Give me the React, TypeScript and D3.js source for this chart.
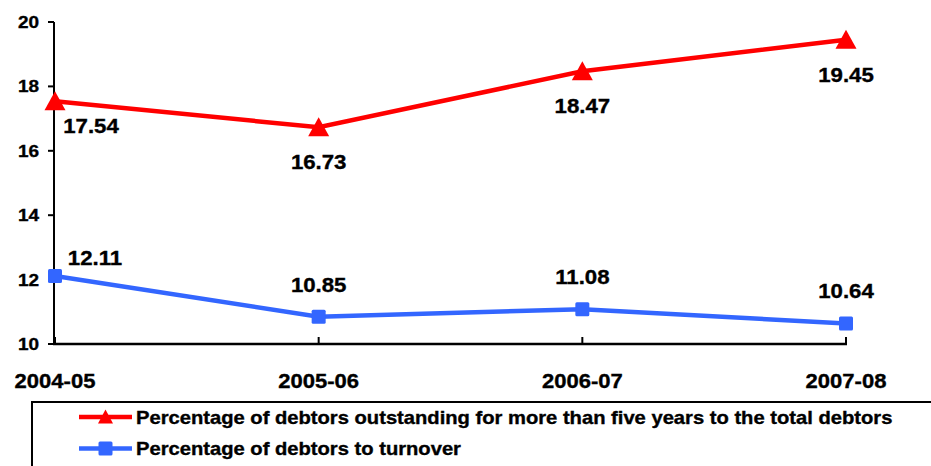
import * as d3 from "d3";

const years = ["2004-05", "2005-06", "2006-07", "2007-08"];
const outstandingPct = [17.54, 16.73, 18.47, 19.45];
const turnoverPct = [12.11, 10.85, 11.08, 10.64];
const yTicks = [10, 12, 14, 16, 18, 20];
const seriesNames = [
  "Percentage of debtors outstanding for more than five years to the total debtors",
  "Percentage of debtors to turnover",
];

const RED = "#ff0000";
const BLUE = "#3366ff";
const FONT = "'Liberation Sans', Arial, sans-serif";

const W = 931;
const H = 466;

// text helper: the reference is a bit stretched horizontally
const T = ({ x, y, size, anchor = "middle", sx = 1.15, children }: any) => (
  <text
    transform={`translate(${x},${y}) scale(${sx},1)`}
    textAnchor={anchor}
    fontFamily={FONT}
    fontWeight="bold"
    fontSize={size}
    fill="#000"
    stroke="#000"
    strokeWidth={0.35}
  >
    {children}
  </text>
);

const triangle = (w: number, h: number) =>
  `M0,${-h * 0.53}L${w / 2},${h * 0.47}L${-w / 2},${h * 0.47}Z`;

export default function App() {
  const x = d3.scalePoint<string>().domain(years).range([55, 846]);
  const y = d3.scaleLinear().domain([10, 20]).range([344, 22]);

  const line = d3
    .line<number>()
    .x((_, i) => x(years[i])!)
    .y((d) => y(d));

  return (
    <svg
      width={W}
      height={H}
      style={{ position: "absolute", left: 0, top: 0, background: "#fff" }}
    >
      {/* axes */}
      <line x1={54} x2={54} y1={y(20)} y2={y(10)} stroke="#000" strokeWidth={2} />
      <line x1={53} x2={x(years[3])! + 1} y1={y(10)} y2={y(10)} stroke="#000" strokeWidth={2.5} />
      {yTicks.map((t) => (
        <g key={t}>
          <line x1={48} x2={54} y1={y(t)} y2={y(t)} stroke="#000" strokeWidth={2} />
          <T x={39} y={y(t) + 6} size={16.5} anchor="end" sx={1.15}>
            {t}
          </T>
        </g>
      ))}
      {years.map((c) => (
        <g key={c}>
          <line x1={x(c)} x2={x(c)} y1={y(10)} y2={y(10) - 7} stroke="#000" strokeWidth={2} />
          <T x={x(c)} y={388} size={19.5} sx={1.13}>
            {c}
          </T>
        </g>
      ))}

      {/* series lines */}
      <path d={line(outstandingPct) ?? ""} fill="none" stroke={RED} strokeWidth={4.5} />
      <path d={line(turnoverPct) ?? ""} fill="none" stroke={BLUE} strokeWidth={4.5} />

      {/* markers */}
      {outstandingPct.map((v, i) => (
        <path
          key={"r" + i}
          d={triangle(21, 19)}
          transform={`translate(${x(years[i])},${y(v)})`}
          fill={RED}
        />
      ))}
      {turnoverPct.map((v, i) => (
        <rect
          key={"b" + i}
          x={x(years[i])! - 7}
          y={y(v) - 7}
          width={14}
          height={14}
          rx={1.5}
          fill={BLUE}
        />
      ))}

      {/* data labels */}
      {outstandingPct.map((v, i) => (
        <T
          key={"rl" + i}
          x={i === 0 ? x(years[i])! + 36 : x(years[i])!}
          y={i === 0 ? y(v) + 32 : y(v) + 42}
          size={19.5}
          sx={1.14}
        >
          {v.toFixed(2)}
        </T>
      ))}
      {turnoverPct.map((v, i) => (
        <T
          key={"bl" + i}
          x={i === 0 ? x(years[i])! + 40 : x(years[i])!}
          y={i === 0 ? y(v) - 11 : y(v) - 25}
          size={19.5}
          sx={1.14}
        >
          {v.toFixed(2)}
        </T>
      ))}

      {/* legend */}
      <rect x={32} y={402} width={W} height={H} fill="none" stroke="#000" strokeWidth={2} />
      {seriesNames.map((name, i) => {
        const cy = 417 + i * 31.5;
        const color = i === 0 ? RED : BLUE;
        return (
          <g key={name}>
            <line x1={79} x2={132} y1={cy} y2={cy} stroke={color} strokeWidth={4.5} />
            {i === 0 ? (
              <path d={triangle(15, 14)} transform={`translate(105.5,${cy})`} fill={color} />
            ) : (
              <rect x={98.5} y={cy - 7} width={14} height={14} rx={1.5} fill={color} />
            )}
            <T x={136} y={cy + 6.5} size={17.7} anchor="start" sx={1.14}>
              {name}
            </T>
          </g>
        );
      })}
    </svg>
  );
}
